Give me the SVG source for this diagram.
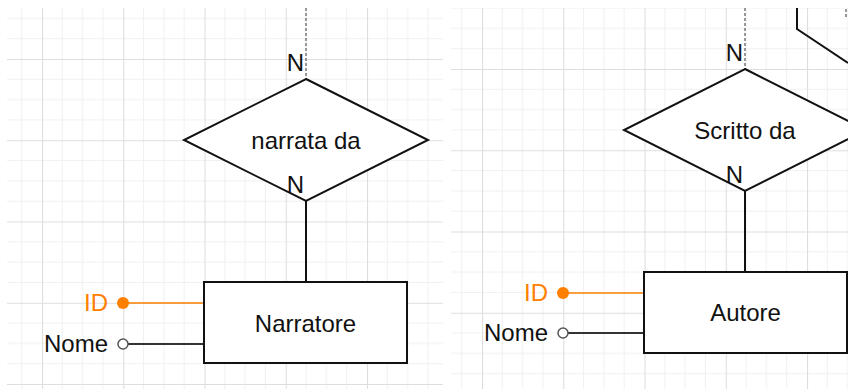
<svg xmlns="http://www.w3.org/2000/svg" width="848" height="389" viewBox="0 0 848 389">
<style>
.t{font-family:"Liberation Sans",Arial,sans-serif;font-size:24px;fill:#111}
.o{fill:#ff8000}
.shape{fill:#fff;stroke:#111;stroke-width:2}
.conn{stroke:#111;stroke-width:2;fill:none}
.dash{stroke:#777;stroke-width:1.5;stroke-dasharray:3 2;fill:none}
.idl{stroke:#ff8000;stroke-width:1.5}
.nl{stroke:#333;stroke-width:1.8}
</style>
<defs>
<pattern id="gridL" patternUnits="userSpaceOnUse" x="42" y="59" width="81.25" height="81.25">
<g stroke="#f0f0f0" stroke-width="1">
<line x1="20.3" y1="0" x2="20.3" y2="81.25"/><line x1="40.6" y1="0" x2="40.6" y2="81.25"/><line x1="60.9" y1="0" x2="60.9" y2="81.25"/>
<line x1="0" y1="20.3" x2="81.25" y2="20.3"/><line x1="0" y1="40.6" x2="81.25" y2="40.6"/><line x1="0" y1="60.9" x2="81.25" y2="60.9"/>
</g>
<g stroke="#dedede" stroke-width="1.2"><line x1="0.5" y1="0" x2="0.5" y2="81.25"/><line x1="0" y1="0.5" x2="81.25" y2="0.5"/></g>
</pattern>
<pattern id="gridR" patternUnits="userSpaceOnUse" x="482" y="69" width="81.25" height="81.25">
<g stroke="#f0f0f0" stroke-width="1">
<line x1="20.3" y1="0" x2="20.3" y2="81.25"/><line x1="40.6" y1="0" x2="40.6" y2="81.25"/><line x1="60.9" y1="0" x2="60.9" y2="81.25"/>
<line x1="0" y1="20.3" x2="81.25" y2="20.3"/><line x1="0" y1="40.6" x2="81.25" y2="40.6"/><line x1="0" y1="60.9" x2="81.25" y2="60.9"/>
</g>
<g stroke="#dedede" stroke-width="1.2"><line x1="0.5" y1="0" x2="0.5" y2="81.25"/><line x1="0" y1="0.5" x2="81.25" y2="0.5"/></g>
</pattern>
</defs>
<rect width="848" height="389" fill="#fff"/>
<rect x="7" y="8" width="436" height="381" fill="url(#gridL)"/>
<rect x="451" y="8" width="397" height="381" fill="url(#gridR)"/>

<g id="connectors">
<line class="dash" x1="306" y1="8" x2="306" y2="79"/>
<line class="conn" x1="306" y1="201" x2="306" y2="282"/>
<line class="idl" x1="123" y1="303" x2="204" y2="303"/>
<line class="nl" x1="128" y1="344" x2="204" y2="344"/>
<line class="dash" x1="745" y1="8" x2="745" y2="69"/>
<line class="conn" x1="745" y1="191" x2="745" y2="272"/>
<line class="idl" x1="563" y1="293" x2="644" y2="293"/>
<line class="nl" x1="568" y1="333" x2="644" y2="333"/>
<polyline class="conn" points="797,8 797,29 848,63"/>
<line class="dash" x1="846" y1="9" x2="846" y2="19"/>
</g>

<g id="rel-narrata">
<polygon class="shape" points="306,79 428,140 306,201 184,140"/>
<text class="t" x="306" y="149" text-anchor="middle">narrata da</text>
<text class="t" x="304" y="71" text-anchor="end">N</text>
<text class="t" x="304" y="193" text-anchor="end">N</text>
</g>
<g id="ent-narratore">
<rect class="shape" x="204" y="282" width="203" height="81"/>
<text class="t" x="305.5" y="332" text-anchor="middle">Narratore</text>
</g>
<g id="attr-narratore-id">
<circle cx="123" cy="303" r="6" fill="#ff8000"/>
<text class="t o" x="108" y="311" text-anchor="end">ID</text>
</g>
<g id="attr-narratore-nome">
<circle cx="123" cy="344" r="5" fill="#fff" stroke="#555" stroke-width="1.5"/>
<text class="t" x="108" y="352" text-anchor="end">Nome</text>
</g>

<g id="rel-scritto">
<polygon class="shape" points="745,69 866,130 745,191 624,130"/>
<text class="t" x="745" y="139" text-anchor="middle">Scritto da</text>
<text class="t" x="743" y="61" text-anchor="end">N</text>
<text class="t" x="743" y="183" text-anchor="end">N</text>
</g>
<g id="ent-autore">
<rect class="shape" x="644" y="272" width="203" height="81"/>
<text class="t" x="745.5" y="321" text-anchor="middle">Autore</text>
</g>
<g id="attr-autore-id">
<circle cx="563" cy="293" r="6" fill="#ff8000"/>
<text class="t o" x="548" y="301" text-anchor="end">ID</text>
</g>
<g id="attr-autore-nome">
<circle cx="563" cy="333" r="5" fill="#fff" stroke="#555" stroke-width="1.5"/>
<text class="t" x="548" y="341" text-anchor="end">Nome</text>
</g>
</svg>
